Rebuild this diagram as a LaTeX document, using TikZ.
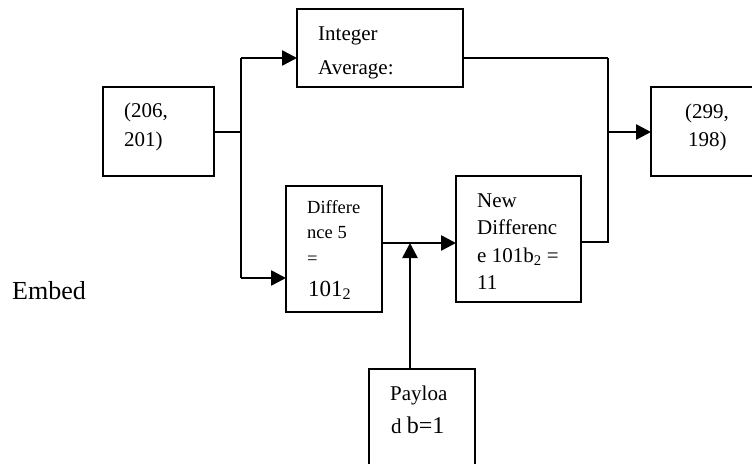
\documentclass[tikz,border=0pt]{standalone}
\usepackage{fontspec}
\setmainfont{Liberation Serif}
\usetikzlibrary{arrows.meta}
\begin{document}
\begin{tikzpicture}[x=1pt,y=-1pt,
  box/.style={draw, line width=1.8pt, rectangle, inner sep=0pt, outer sep=0pt, anchor=north west},
  txt/.style={anchor=base west, inner sep=0pt, font=\fontsize{21}{25}\selectfont},
  txtsmall/.style={anchor=base west, inner sep=0pt, font=\fontsize{18.5}{22}\selectfont},
  txtbig/.style={anchor=base west, inner sep=0pt, font=\fontsize{23}{27}\selectfont},
  txthuge/.style={anchor=base west, inner sep=0pt, font=\fontsize{26}{30}\selectfont},
  wire/.style={line width=1.6pt},
  bus/.style={line width=2pt},
  arr/.style={line width=2.6pt, -{Triangle[length=15pt,width=15pt]}}]
\useasboundingbox (0,0) rectangle (752,463);
\clip (0,0) rectangle (752,463);

% blocks
\node[box, minimum width=111pt, minimum height=89pt]  (src)  at (103,87)  {};
\node[box, minimum width=166pt, minimum height=78pt]  (avg)  at (297,9)   {};
\node[box, minimum width=96pt,  minimum height=126pt] (diff) at (286,186) {};
\node[box, minimum width=125pt, minimum height=126pt] (newd) at (456,176) {};
\node[box, minimum width=160pt, minimum height=89pt]  (out)  at (651,87)  {};
\node[box, minimum width=106pt, minimum height=160pt] (pay)  at (369,369) {};

% block texts
\node[txt] (srcA) at (124,117) {(206,};
\node[txt] (srcB) at (124,146) {201)};
\node[txt] (avgA) at (318,40) {Integer};
\node[txt] (avgB) at (318,74) {Average:};
\node[txtsmall] (diffA) at (307,213) {Differe};
\node[txtsmall] (diffB) at (307,238) {nce 5};
\node[txtsmall] (diffC) at (307,264) {=};
\node[txtbig]   (diffD) at (308,296) {101\textsubscript{2}};
\node[txt] (newA) at (477,207) {New};
\node[txt] (newB) at (477,234) {Differenc};
\node[txt] (newC) at (477,262) {e 101b\textsubscript{2} =};
\node[txt] (newD) at (477,289) {11};
\node[txt] (outA) at (685,118) {(299,};
\node[txt] (outB) at (688,146) {198)};
\node[txt] (payA) at (390,400) {Payloa};
\node[txt] (payB) at (391,433) {d \fontsize{24}{28}\selectfont b=1};
\node[txthuge] (embed) at (12,299) {Embed};

% connectors
\coordinate (split) at (241,132);
\coordinate (up)    at (241,58);
\coordinate (down)  at (241,278);
\coordinate (join)  at (410,243);
\coordinate (rt)    at (608,58);
\coordinate (rb)    at (608,242);
\coordinate (merge) at (608,132);

\draw[wire] (src.east |- split) -- (split);
\draw[bus] (up) -- (down);
\draw[arr] (up) -- (up -| avg.west);
\draw[arr] (down) -- (down -| diff.west);
\draw[arr] (diff.east |- join) -- (join -| newd.west);
\draw[arr] (join |- pay.north) -- (join);
\draw[wire] (rt -| avg.east) -- (rt);
\draw[bus] (rt) -- (rb) -- (rb -| newd.east);
\draw[arr] (merge) -- (merge -| out.west);
\end{tikzpicture}
\end{document}
